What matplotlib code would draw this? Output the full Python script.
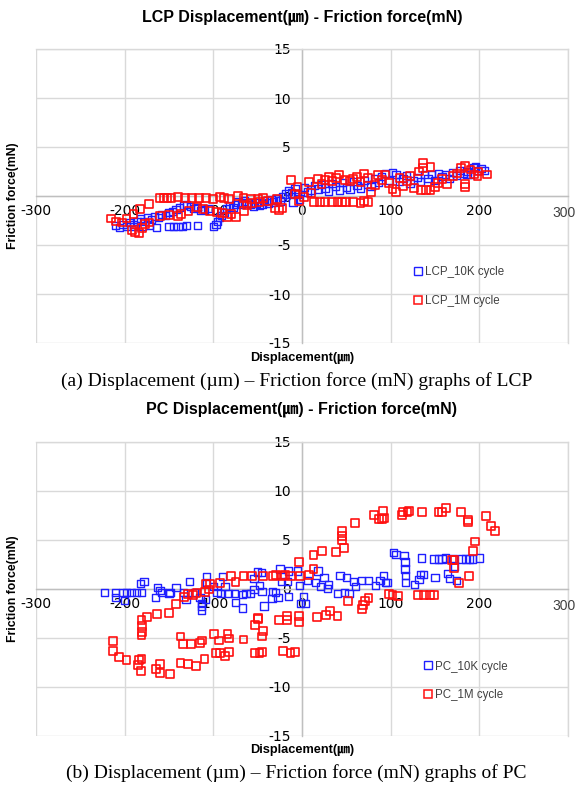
import matplotlib
matplotlib.use("Agg")
import matplotlib.pyplot as plt
from matplotlib import font_manager
from matplotlib.lines import Line2D

names = sorted({f.name for f in font_manager.fontManager.ttflist})
NARROW = "Liberation Sans Narrow" if "Liberation Sans Narrow" in names else "Liberation Sans"
SANS = [NARROW, "Noto Sans CJK KR", "DejaVu Sans"]
SERIF = ["Liberation Serif", "DejaVu Serif"]

# ---------------- data ----------------
x_ticks = [-300, -200, -100, 0, 100, 200, 300]
y_ticks = [-15, -10, -5, 0, 5, 10, 15]

lcp_10k_x = [-210, -206, -202, -198, -194, -190, -186, -182, -178, -174, -170, -166, -162, -158, -154, -150,
             -146, -142, -138, -134, -130, -126, -122, -118, -114, -110, -106,
             -190, -180, -172, -164, -150, -145, -140, -135, -130, -118, -100, -97, -95, -93, -91, -88,
             -85, -82, -78, -75, -72, -68, -65, -62, -58, -55, -52, -48, -45, -42, -38, -35, -32, -28,
             -25, -22, -18, -15, -12, -8, -5, -3, -10,
             3, 6, 10, 14, 18, 22, 26, 30, 34, 38, 42, 46, 50, 54, 58, 62, 66, 70, 74, 78, 82, 86, 90,
             94, 98, 102, 106, 110, 114, 118, 122, 126, 130, 134, 138, 142, 146, 150, 154, 158, 162, 166,
             170, 174, 178, 182, 186, 190, 194, 198, 202, 206, 196, 186]
lcp_10k_y = [-3.0, -3.2, -2.9, -3.1, -2.7, -2.9, -2.6, -2.3, -2.6, -2.2, -2.4, -2.1, -2.2, -1.9, -2.0, -1.7,
             -1.6, -1.4, -1.2, -1.0, -0.9, -1.1, -1.3, -1.2, -1.5, -1.4, -1.3,
             -3.1, -3.1, -3.0, -3.2, -3.1, -3.1, -3.1, -3.1, -3.0, -3.0, -3.1, -2.9, -2.6, -2.2, -2.0, -1.7,
             -1.3, -1.0, -1.2, -0.9, -0.6, -0.8, -0.5, -0.7, -0.9, -1.1, -0.7, -1.0, -0.8, -0.5, -0.7, -0.4,
             -0.6, -0.3, -0.5, -0.1, 0.2, 0.5, 0.3, 0.7, 0.2, -0.3, -0.6,
             0.9, 0.4, 0.6, 1.1, 0.7, 1.2, 0.8, 0.5, 1.3, 1.0, 0.6, 1.4, 0.9, 0.7, 1.5, 1.1, 0.8, 1.6, 1.2,
             1.0, 1.8, 1.4, 2.0, 2.3, 1.6, 2.4, 2.2, 1.5, 1.8, 2.1, 1.3, 1.6, 1.9, 1.5, 2.2, 1.8, 2.2, 1.6,
             2.3, 2.0, 2.2, 1.8, 2.4, 2.1, 2.6, 2.3, 2.5, 2.2, 2.9, 2.6, 2.8, 2.6, 3.0, 2.2]

lcp_1m_x = [-215, -210, -203, -198, -192, -188, -184, -180, -177, -172, -190, -183, -173,
            -160, -156, -152, -148, -140, -132, -124, -116, -108, -100, -92, -88, -82, -72, -66, -58, -50,
            -44, -38,
            -160, -150, -140, -136, -128, -118, -112, -104, -96, -90, -85, -80, -74, -65, -62, -56, -48,
            -30, -26, -22, -28,
            -12, -5, -8, -3, 2, 8, 10, 14, 20, 26, 34, 40, 45, 50, 58, 66, 70, 74,
            18, 22, 26, 30, 34, 38, 42, 48, 54, 58, 62, 66, 70, 74, 78, 82, 86, 90, 94, 98, 102, 106,
            110, 114, 118, 122, 126, 132, 136, 136, 145, 134, 140, 145, 150, 153, 158, 164, 170, 175,
            179, 184, 184, 184, 190, 194, 199, 209, 198]
lcp_1m_y = [-2.3, -2.6, -2.7, -2.3, -3.5, -3.7, -3.8, -3.3, -2.9, -2.7, -1.8, -1.3, -0.8,
            -0.2, -0.2, -0.2, -0.2, -0.1, -0.2, -0.2, -0.2, -0.2, -0.3, -0.1, -0.2, -0.3, 0.0, -0.2, -0.3, -0.3,
            -0.2, -0.5,
            -2.0, -1.9, -2.0, -1.8, -1.5, -1.1, -1.3, -1.5, -1.6, -1.7, -2.1, -1.8, -2.1, -1.5, -0.9, -0.7, -0.6,
            -1.2, -1.4, -1.2, -0.3,
            1.6, 0.9, 0.2, -0.5, -0.1, 1.4, 0.3, -0.6, -0.6, -0.6, -0.6, -0.6, -0.6, -0.6, -0.6, -0.7, -0.5, -0.6,
            1.7, 1.2, 1.6, 1.9, 1.5, 1.8, 2.2, 1.6, 1.5, 1.7, 1.9, 1.4, 2.3, 1.8, 0.4, 1.1, 2.1, 1.6, 2.2, 1.3, 0.7, 0.4,
            1.8, 1.0, 1.5, 2.0, 0.8, 2.5, 3.4, 2.9, 3.0, 0.6, 0.6, 0.6, 0.9, 1.3, 1.7, 1.2, 2.0, 2.3,
            2.9, 3.1, 1.2, 0.9, 2.7, 2.2, 2.5, 2.2, 2.0]

pc_10k_x = [-223, -210, -210, -202, -198, -192, -187, -181, -200, -182, -178, -163, -160, -165, -158, -150, -149,
            -142, -134, -127, -131, -121, -115, -113, -113, -113, -109, -108, -108,
            -100, -96, -92, -90, -87, -83, -76, -75, -67, -67, -63, -58, -54, -54, -50, -46, -48, -45, -43,
            -34, -33, -30, -25, -23, -27, -16, -15, -15, -5, -3, -2, 2, 4,
            6, 15, 18, 21, 25, 29, 30, 40, 43, 48, 50, 53, 58, 60, 67, 75, 83, 88, 92, 94, 96,
            103, 106, 115, 116, 116, 117, 117, 127, 132, 134, 137, 135, 150, 149, 154, 158, 162, 164, 166,
            171, 172, 174, 180, 185, 189, 192, 200]
pc_10k_y = [-0.4, -0.4, -0.9, -0.4, -0.4, -0.4, -0.4, -0.4, -1.2, 0.5, 0.7, 0.1, -0.2, -0.9, -0.4, -0.5, -0.4,
            0.1, -0.4, 0.7, -1.1, -0.4, -0.9, -1.8, -2.2, -1.5, -1.1, 1.2, 0.6,
            0.2, -0.4, -0.5, 1.2, 0.2, -0.5, -0.5, -1.4, -0.6, -2.0, -0.5, -0.5, 1.0, -0.1, 1.7, 1.6, 0.3, -0.3, -1.8,
            -1.0, -0.3, -0.4, 2.0, 0.7, -0.9, 0.7, 1.8, -0.8, 1.8, 0.3, -1.5, -0.8, -1.5,
            0.8, 0.6, 1.8, 0.2, 1.1, 0.0, 0.4, -0.5, 1.3, -0.4, 1.1, -0.5, 0.7, 0.2, 0.8, 0.8, 0.3, 0.8, 1.3, 0.6, 0.6,
            3.7, 3.5, 3.4, 2.7, 2.0, 1.3, 0.6, 0.4, 0.9, 1.4, 1.4, 3.1, 1.1, 3.0, 3.0, 3.0, 3.1, 1.5, 1.0,
            3.0, 2.3, 0.8, 3.0, 3.0, 3.0, 3.0, 3.1]

pc_1m_x = [208, 213, 218, 195, 193, 188, 187, 187, 179, 177, 172, 171, 169, 162, 158, 154, 135, 121, 119, 114, 113,
           92, 90, 87, 81, 91, 60, 45, 45, 45, 47, 38, 23, 13, 13, 8, -3, -2,
           -12, -19, -23, -29, -33, -44, -56, -66, -75, -80, -92, -104, -108, -105, -109,
           98, 102, 108, 131, 138, 144, 149, 75, 71, 69, 68, 52, 40, 32, 27, 17, -3, -3,
           -17, -17, -26, -50, -50, -53, -44, -45, -66, -8, -13, -21, -45, -48, -53,
           -82, -84, -94, -99, -82, -87, -92, -97, -113, -115, -125, -134, -137,
           -110, -120, -129, -137, -149, -160, -160, -165, -182, -184, -185, -181,
           -198, -206, -213, -213, -181, -180, -180, -181, -175, -164, -150, -142,
           -133, -129, -123, -119]
pc_1m_y = [7.4, 6.4, 5.9, 4.8, 3.8, 1.3, 7.0, 6.8, 7.8, 0.6, 2.9, 2.1, 2.9, 8.2, 7.8, 7.8, 7.8, 7.9, 7.8, 7.8, 7.5,
           7.2, 7.1, 7.1, 7.5, 7.9, 6.7, 5.9, 5.4, 4.9, 4.1, 3.7, 3.8, 3.4, 2.0, 1.4, 2.7, 1.3,
           1.3, 1.4, 1.3, 1.4, 1.3, 1.3, 1.3, 1.3, 0.7, 1.3, 0.6, 0.5, 0.5, -0.1, -0.4,
           -0.6, -0.7, -0.8, -0.7, -0.7, -0.7, -0.7, -1.0, -1.3, -1.7, -2.1, -1.3, -2.8, -2.3, -2.7, -2.9, -2.8, -3.4,
           -2.8, -3.2, -3.2, -3.0, -3.1, -3.7, -4.3, -4.9, -5.2, -6.5, -6.6, -6.4, -6.5, -6.6, -6.6,
           -5.1, -4.6, -5.3, -4.6, -6.5, -6.9, -6.6, -6.6, -5.3, -5.6, -5.7, -5.7, -4.9,
           -7.2, -7.9, -7.7, -7.6, -8.7, -8.6, -7.7, -8.2, -8.4, -7.3, -7.8, -7.2,
           -7.3, -7.0, -6.4, -5.4, -4.8, -4.4, -3.8, -3.2, -2.9, -2.6, -2.5, -1.6,
           -0.9, -0.6, -0.7, -0.5]

panels = [
    dict(title="LCP Displacement(㎛) - Friction force(mN)",
         caption="(a) Displacement (µm) – Friction force (mN) graphs of LCP",
         s1=(lcp_10k_x, lcp_10k_y, "LCP_10K cycle"),
         s2=(lcp_1m_x, lcp_1m_y, "LCP_1M cycle"),
         rect=[36 / 576, 1 - 343 / 785, 532 / 576, 294 / 785],
         leg=(0.712, 0.262)),
    dict(title="PC Displacement(㎛) - Friction force(mN)",
         caption="(b) Displacement (µm) – Friction force (mN) graphs of PC",
         s1=(pc_10k_x, pc_10k_y, "PC_10K cycle"),
         s2=(pc_1m_x, pc_1m_y, "PC_1M cycle"),
         rect=[36 / 576, 1 - 735.5 / 785, 532 / 576, 294 / 785],
         leg=(0.731, 0.255)),
]

fig = plt.figure(figsize=(5.76, 7.85), dpi=100)
fig.patch.set_facecolor("white")

GRID = "#d9d9d9"
AXIS = "#bfbfbf"
TXT = "#404040"
TICKFS = 9.5

for p in panels:
    ax = fig.add_axes(p["rect"])
    ax.set_xlim(-300, 300)
    ax.set_ylim(-15, 15)
    ax.set_xticks(x_ticks)
    ax.set_yticks(y_ticks)
    # the right-most label is drawn separately so it stays inside the picture
    xlabels = [str(v) for v in x_ticks[:-1]] + [""]
    ax.set_xticklabels(xlabels, family=SANS, fontsize=TICKFS, color=TXT)
    ax.set_yticklabels([str(v) for v in y_ticks], family=SANS, fontsize=TICKFS, color=TXT)
    ax.annotate(str(x_ticks[-1]), xy=(x_ticks[-1], 0), xycoords="data",
                xytext=(-3.0, -7.5), textcoords="offset points", ha="center", va="top",
                fontfamily=SANS, fontsize=10, color=TXT, annotation_clip=False)
    ax.grid(True, color=GRID, linewidth=1.0, zorder=0)
    ax.set_axisbelow(True)
    for side in ["top", "right"]:
        ax.spines[side].set_color(GRID)
        ax.spines[side].set_linewidth(1.0)
    ax.spines["left"].set_position(("data", 0))
    ax.spines["bottom"].set_position(("data", 0))
    ax.spines["left"].set_color(AXIS)
    ax.spines["bottom"].set_color(AXIS)
    ax.spines["left"].set_linewidth(1.0)
    ax.spines["bottom"].set_linewidth(1.0)
    ax.tick_params(axis="both", length=0)
    ax.tick_params(axis="x", pad=6)
    ax.tick_params(axis="y", pad=8)

    x1, y1, l1 = p["s1"]
    x2, y2, l2 = p["s2"]
    ax.scatter(x1, y1, s=28, marker="s", facecolors="none", edgecolors="#1f1fff",
               linewidths=1.0, zorder=3, clip_on=False)
    ax.scatter(x2, y2, s=32, marker="s", facecolors="none", edgecolors="#ff1010",
               linewidths=1.2, zorder=4, clip_on=False)

    handles = [Line2D([], [], ls="none", marker="s", markersize=5.5, markerfacecolor="none",
                      markeredgecolor="#1f1fff", markeredgewidth=1.0, label=l1),
               Line2D([], [], ls="none", marker="s", markersize=5.5, markerfacecolor="none",
                      markeredgecolor="#ff1010", markeredgewidth=1.1, label=l2)]
    ax.legend(handles=handles, loc="upper left", bbox_to_anchor=p["leg"], frameon=False,
              prop={"family": SANS, "size": 8.3}, handlelength=0.6, handletextpad=0.25,
              labelspacing=1.45, borderpad=0, borderaxespad=0, labelcolor=TXT)

    ax.set_title(p["title"], family=SANS, fontsize=11.5, fontweight="bold", pad=20)
    ax.text(0.5, -0.05, "Displacement(㎛)", transform=ax.transAxes, ha="center", va="center",
            family=SANS, fontsize=9.2, fontweight="bold")
    ax.text(-0.043, 0.5, "Friction force(mN)", transform=ax.transAxes, ha="center", va="center",
            rotation=90, family=SANS, fontsize=8.8, fontweight="bold")
    ax.text(0.49, -0.128, p["caption"], transform=ax.transAxes, ha="center", va="center",
            family=SERIF, fontsize=14)

fig.savefig("out.png", dpi=100, facecolor="white")
